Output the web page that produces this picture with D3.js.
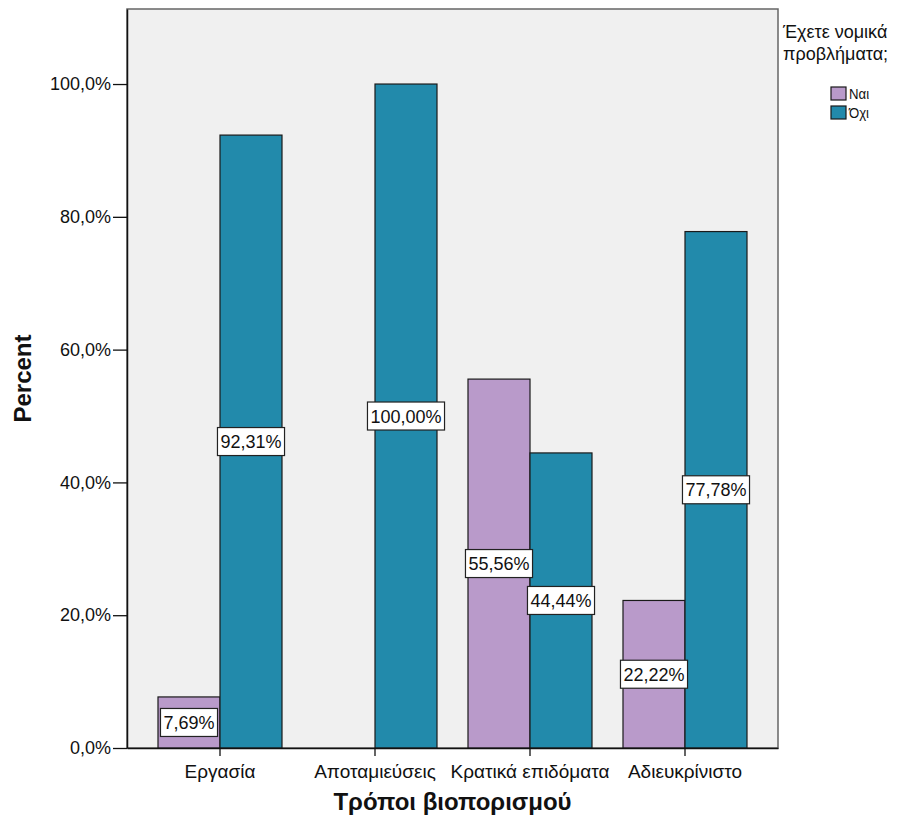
<!DOCTYPE html>
<html><head><meta charset="utf-8">
<script src="https://cdn.jsdelivr.net/npm/d3@7"></script>
<style>body{margin:0;background:#fff}svg{display:block}text{font-family:"Liberation Sans",Arial,sans-serif}</style>
</head><body>
<svg id="c" width="920" height="829"></svg>
<script>
const categories = ["Εργασία","Αποταμιεύσεις","Κρατικά επιδόματα","Αδιευκρίνιστο"];
const seriesNames = ["Ναι","Όχι"];
const naiValues = [7.69, 0, 55.56, 22.22];
const oxiValues = [92.31, 100, 44.44, 77.78];
const yTicks = [0, 20, 40, 60, 80, 100];
const colors = ["#b99aca", "#228aab"];

const svg = d3.select("#c");
const L = 127, R = 778, T = 9, B = 748;
const x = d3.scaleBand().domain(categories).range([L, R]).paddingInner(0.2).paddingOuter(0.2);
const xs = d3.scaleBand().domain(seriesNames).range([0, x.bandwidth()]);
const y = d3.scaleLinear().domain([0, 111.3]).range([B, T]);
const fmt = v => v.toFixed(1).replace(".", ",") + "%";
const fmt2 = v => v.toFixed(2).replace(".", ",") + "%";

svg.append("rect").attr("x", L).attr("y", T).attr("width", R - L).attr("height", B - T)
  .attr("fill", "#f0f0f0").attr("stroke", "#666").attr("stroke-width", 1.5);

const data = [];
categories.forEach((c, i) => {
  data.push({c, s: "Ναι", v: naiValues[i], col: colors[0]});
  data.push({c, s: "Όχι", v: oxiValues[i], col: colors[1]});
});
const bars = data.filter(d => d.v > 0);
svg.append("g").selectAll("rect").data(bars).join("rect")
  .attr("x", d => x(d.c) + xs(d.s))
  .attr("y", d => y(d.v))
  .attr("width", xs.bandwidth())
  .attr("height", d => y(0) - y(d.v))
  .attr("fill", d => d.col).attr("stroke", "#1a1a1a").attr("stroke-width", 1.2);

// labels
const lg = svg.append("g");
bars.forEach(d => {
  const cx = x(d.c) + xs(d.s) + xs.bandwidth() / 2;
  const cy = y(d.v / 2);
  const t = lg.append("text").attr("x", cx).attr("y", cy + 6.5).attr("text-anchor", "middle")
    .attr("font-size", 18).attr("fill", "#111").text(fmt2(d.v));
  const bb = t.node().getBBox();
  lg.insert("rect", "text").attr("x", bb.x - 3).attr("y", cy - 14).attr("width", bb.width + 6).attr("height", 28)
    .attr("fill", "#fff").attr("stroke", "#222").attr("stroke-width", 1.2);
});

// y axis
const ya = svg.append("g").attr("transform", `translate(${L},0)`)
  .call(d3.axisLeft(y).tickValues(yTicks).tickFormat(fmt).tickSize(14).tickSizeOuter(0).tickPadding(2));
ya.select(".domain").attr("stroke", "#111").attr("stroke-width", 1.5);
ya.selectAll(".tick line").attr("stroke", "#111").attr("stroke-width", 1.3);
ya.selectAll("text").attr("font-size", 18).attr("fill", "#111").attr("font-family", "Liberation Sans, Arial, sans-serif");

// x axis
const xa = svg.append("g").attr("transform", `translate(0,${B})`)
  .call(d3.axisBottom(x).tickSize(8).tickPadding(9).tickSizeOuter(0));
xa.select(".domain").attr("stroke", "#111").attr("stroke-width", 1.5);
xa.selectAll(".tick line").attr("stroke", "#111").attr("stroke-width", 1.3);
xa.selectAll("text").attr("font-size", 19).attr("fill", "#111").attr("font-family", "Liberation Sans, Arial, sans-serif");

svg.append("text").attr("transform", `translate(31,${(T + B) / 2}) rotate(-90)`).attr("text-anchor", "middle")
  .attr("font-size", 24).attr("font-weight", "bold").attr("fill", "#111").text("Percent");
svg.append("text").attr("x", (L + R) / 2).attr("y", 810).attr("text-anchor", "middle")
  .attr("font-size", 24).attr("font-weight", "bold").attr("fill", "#111").text("Τρόποι βιοπορισμού");

// legend
const leg = svg.append("g");
leg.append("text").attr("x", 783).attr("y", 38).attr("font-size", 18).attr("fill", "#111").text("Έχετε νομικά");
leg.append("text").attr("x", 783).attr("y", 60).attr("font-size", 18).attr("fill", "#111").text("προβλήματα;");
seriesNames.forEach((s, i) => {
  const yy = 87 + i * 19;
  leg.append("rect").attr("x", 831).attr("y", yy).attr("width", 15).attr("height", 13)
    .attr("fill", colors[i]).attr("stroke", "#1a1a1a").attr("stroke-width", 1.2);
  leg.append("text").attr("x", 849).attr("y", yy + 12).attr("font-size", 15).attr("fill", "#111")
    .attr("transform", `translate(849,0) scale(0.88,1) translate(-849,0)`).text(s);
});
</script>
</body></html>
